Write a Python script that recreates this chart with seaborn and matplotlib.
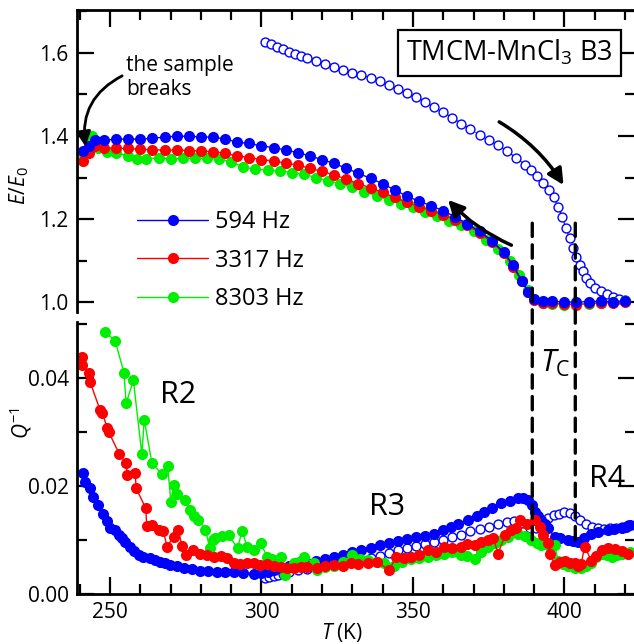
import numpy as np
import pandas as pd
import seaborn as sns
import matplotlib
matplotlib.use("Agg")
import matplotlib.pyplot as plt
from matplotlib.lines import Line2D
from matplotlib.patches import ConnectionPatch
from matplotlib.ticker import MultipleLocator

# ---------------- data ----------------
labels = ["594 Hz", "3317 Hz", "8303 Hz"]
colors = ["#0000ff", "#ff0000", "#00ee00"]

# Top panel: E/E0 (cooling, closed symbols)
T_E_blue = [241, 243, 245, 248, 252, 256, 260, 264, 268, 272, 276, 280, 284, 288, 292, 296, 300, 304, 308, 312,
            316, 320, 324, 328, 332, 336, 340, 344, 348, 352, 356, 360, 364, 368, 372, 376, 380, 383, 386, 388,
            390, 393, 396, 400, 404, 408, 412, 416, 420]
E_blue = [1.365, 1.375, 1.390, 1.390, 1.392, 1.393, 1.392, 1.395, 1.397, 1.400, 1.399, 1.398, 1.397, 1.393, 1.385,
          1.382, 1.376, 1.372, 1.366, 1.360, 1.352, 1.343, 1.334, 1.322, 1.310, 1.298, 1.285, 1.270, 1.255, 1.243,
          1.232, 1.220, 1.205, 1.188, 1.170, 1.148, 1.120, 1.090, 1.050, 1.025, 1.008, 1.003, 1.002, 1.000, 1.000,
          1.001, 1.002, 1.001, 1.003]
T_E_red = [241, 243, 245, 248, 252, 256, 260, 264, 268, 272, 276, 280, 284, 288, 292, 296, 300, 304, 308, 312,
           316, 320, 324, 328, 332, 336, 340, 344, 348, 352, 356, 360, 364, 368, 372, 376, 380, 383, 386, 388,
           390, 393, 396, 400, 404, 408, 412, 416, 420]
E_red = [1.340, 1.360, 1.375, 1.372, 1.370, 1.370, 1.368, 1.367, 1.366, 1.366, 1.365, 1.364, 1.362, 1.358, 1.352,
         1.348, 1.343, 1.340, 1.335, 1.330, 1.322, 1.315, 1.306, 1.296, 1.285, 1.275, 1.264, 1.252, 1.240, 1.230,
         1.220, 1.210, 1.198, 1.185, 1.167, 1.145, 1.118, 1.085, 1.050, 1.025, 1.005, 0.998, 0.997, 0.996, 0.993,
         0.997, 0.998, 0.998, 1.000]
T_E_green = [241, 243, 244, 246, 249, 252, 256, 259, 262, 266, 270, 274, 278, 282, 286, 290, 294, 298, 302, 306,
             310, 314, 318, 322, 326, 330, 334, 338, 342, 346, 350, 354, 358, 362, 366, 370, 374, 378, 382, 385,
             388, 390, 393, 396, 400, 404, 408, 412, 416, 420]
E_green = [1.360, 1.390, 1.400, 1.370, 1.362, 1.360, 1.352, 1.345, 1.344, 1.348, 1.345, 1.346, 1.347, 1.346, 1.344,
           1.338, 1.325, 1.320, 1.318, 1.316, 1.312, 1.308, 1.300, 1.292, 1.285, 1.276, 1.266, 1.256, 1.246, 1.237,
           1.228, 1.218, 1.207, 1.196, 1.185, 1.170, 1.150, 1.128, 1.100, 1.065, 1.030, 1.008, 0.997, 0.995, 0.994,
           0.995, 0.996, 0.998, 0.999, 1.002]
# Top panel: E/E0 heating (open symbols, 594 Hz)
T_E_open = [301.3, 303, 305, 307, 309, 311, 313, 315, 318, 321, 324, 327, 330, 333, 336, 339, 342, 345, 348, 351,
            354, 357, 360, 363, 366, 369, 372, 375, 378, 381, 384, 387, 389, 391, 393, 395, 396.5, 398, 399.3,
            400.5, 401.7, 403, 404, 405, 406, 407, 408.5, 410, 412, 414, 416, 418, 420]
E_open = [1.626, 1.622, 1.615, 1.610, 1.603, 1.598, 1.593, 1.588, 1.581, 1.574, 1.567, 1.559, 1.552, 1.546, 1.540,
          1.532, 1.522, 1.513, 1.504, 1.494, 1.482, 1.470, 1.458, 1.444, 1.430, 1.416, 1.403, 1.390, 1.378, 1.364,
          1.348, 1.331, 1.318, 1.303, 1.288, 1.270, 1.252, 1.228, 1.205, 1.178, 1.155, 1.130, 1.108, 1.090, 1.074,
          1.058, 1.045, 1.034, 1.026, 1.020, 1.013, 1.008, 1.005]

# Bottom panel: Q^-1
T_Q_blue = [241.2, 241.7, 243.4, 244.3, 246.0, 247.8, 249.0, 250.0, 251.7, 253.0, 253.9, 255.0, 256.6, 258.0, 259.4,
            261.0, 263.2, 265.0, 266.6, 268.0, 269.9, 272.0, 274.3, 277.0, 279.8, 282.5, 285.3, 288.0, 290.8, 294.0,
            297.4, 300.0, 302.0, 304.0, 306.3, 309.0, 312.0, 315.0, 318.0, 321.0, 324.0, 327.0, 330.0, 333.0, 336.0,
            339.0, 342.0, 345.0, 348.0, 351.0, 354.0, 357.0, 360.0, 362.6, 365.0, 368.1, 371.0, 373.6, 376.0, 379.1,
            382.0, 384.7, 386.5, 388.0, 389.2, 390.2, 391.3, 392.4, 393.5, 394.6, 396.8, 398.5, 401.2, 403.0, 404.5,
            406.5, 408.9, 411.0, 414.5, 416.5, 418.9, 420.3, 421.6]
Q_blue = [0.0224, 0.0208, 0.0196, 0.0180, 0.0165, 0.0149, 0.0135, 0.0122, 0.0119, 0.0110, 0.0103, 0.0097, 0.0088,
          0.0080, 0.0072, 0.0069, 0.0066, 0.0063, 0.0060, 0.0057, 0.0054, 0.0051, 0.0048, 0.0046, 0.0043, 0.0042,
          0.0041, 0.0040, 0.0040, 0.0039, 0.0038, 0.0039, 0.0041, 0.0044, 0.0048, 0.0051, 0.0055, 0.0058, 0.0061,
          0.0064, 0.0068, 0.0072, 0.0077, 0.0081, 0.0086, 0.0090, 0.0094, 0.0098, 0.0102, 0.0105, 0.0108, 0.0112,
          0.0118, 0.0125, 0.0130, 0.0137, 0.0145, 0.0152, 0.0160, 0.0168, 0.0173, 0.0177, 0.0177, 0.0174, 0.0165,
          0.0152, 0.0145, 0.0137, 0.0130, 0.0122, 0.0106, 0.0103, 0.0100, 0.0099, 0.0097, 0.0104, 0.0112, 0.0115,
          0.0119, 0.0120, 0.0122, 0.0124, 0.0128]
T_Q_red = [240.6, 240.9, 243.1, 243.4, 246.7, 247.5, 249.1, 249.5, 253.0, 255.3, 255.7, 258.3, 258.6, 261.8, 262.1,
           263.9, 266.3, 267.6, 268.8, 271.0, 272.6, 273.7, 275.2, 277.4, 279.8, 282.0, 284.2, 286.5, 288.6, 290.8,
           293.0, 295.2, 297.4, 299.6, 301.9, 304.0, 306.3, 308.5, 310.7, 312.9, 315.1, 318.4, 321.0, 324.0, 327.0,
           329.5, 332.0, 335.0, 338.0, 342.2, 344.4, 347.0, 349.4, 352.0, 354.9, 357.5, 360.4, 363.0, 365.9, 368.0,
           370.4, 372.5, 374.8, 376.5, 378.1, 380.5, 382.5, 384.0, 385.3, 387.5, 390.2, 391.9, 393.0, 394.6, 395.2,
           396.8, 398.5, 400.1, 401.8, 403.4, 404.5, 405.5, 406.7, 408.9, 410.5, 412.3, 414.5, 416.7, 418.9, 421.1]
Q_red = [0.0440, 0.0424, 0.0410, 0.0393, 0.0341, 0.0335, 0.0307, 0.0301, 0.0260, 0.0242, 0.0220, 0.0224, 0.0196,
         0.0159, 0.0126, 0.0128, 0.0119, 0.0117, 0.0088, 0.0106, 0.0119, 0.0089, 0.0072, 0.0081, 0.0075, 0.0072,
         0.0069, 0.0070, 0.0066, 0.0057, 0.0055, 0.0058, 0.0057, 0.0053, 0.0055, 0.0052, 0.0050, 0.0049, 0.0048,
         0.0050, 0.0050, 0.0048, 0.0051, 0.0054, 0.0052, 0.0057, 0.0055, 0.0057, 0.0060, 0.0044, 0.0069, 0.0066,
         0.0069, 0.0072, 0.0081, 0.0078, 0.0088, 0.0085, 0.0088, 0.0092, 0.0091, 0.0097, 0.0100, 0.0104, 0.0075,
         0.0110, 0.0119, 0.0122, 0.0137, 0.0130, 0.0137, 0.0125, 0.0110, 0.0094, 0.0075, 0.0054, 0.0060, 0.0062,
         0.0058, 0.0057, 0.0051, 0.0055, 0.0088, 0.0062, 0.0070, 0.0081, 0.0086, 0.0084, 0.0080, 0.0075]
T_Q_green = [248.3, 251.7, 254.6, 255.3, 257.7, 260.5, 261.3, 263.8, 267.1, 269.0, 270.1, 271.0, 272.1, 274.8, 276.3,
             277.8, 279.2, 281.5, 282.9, 284.0, 284.8, 287.0, 289.2, 292.1, 293.6, 295.2, 297.4, 299.7, 301.9, 303.5,
             305.2, 306.5, 307.9, 310.7, 312.5, 314.0, 317.4, 318.4, 321.0, 324.0, 327.0, 330.0, 332.5, 335.0, 338.0,
             340.5, 343.8, 346.5, 349.4, 352.0, 354.9, 357.5, 360.4, 363.0, 365.9, 368.0, 370.4, 372.5, 374.8, 377.0,
             379.1, 381.5, 384.7, 387.0, 389.1, 390.8, 392.4, 394.5, 396.8, 397.9, 399.5, 401.2, 403.5, 405.6, 407.2,
             408.9, 410.5, 412.3, 414.0, 415.6, 417.3, 418.9, 420.3, 421.6]
Q_green = [0.0486, 0.0469, 0.0410, 0.0353, 0.0396, 0.0259, 0.0323, 0.0243, 0.0222, 0.0237, 0.0171, 0.0202, 0.0186,
           0.0174, 0.0156, 0.0145, 0.0137, 0.0119, 0.0085, 0.0100, 0.0103, 0.0107, 0.0109, 0.0085, 0.0117, 0.0088,
           0.0082, 0.0094, 0.0069, 0.0065, 0.0057, 0.0069, 0.0035, 0.0057, 0.0060, 0.0069, 0.0057, 0.0044, 0.0050,
           0.0051, 0.0060, 0.0072, 0.0065, 0.0063, 0.0060, 0.0057, 0.0051, 0.0060, 0.0064, 0.0066, 0.0069, 0.0072,
           0.0075, 0.0078, 0.0072, 0.0070, 0.0064, 0.0078, 0.0088, 0.0094, 0.0100, 0.0105, 0.0112, 0.0108, 0.0100,
           0.0095, 0.0091, 0.0091, 0.0091, 0.0062, 0.0055, 0.0051, 0.0049, 0.0048, 0.0052, 0.0057, 0.0068, 0.0075,
           0.0072, 0.0069, 0.0073, 0.0075, 0.0076, 0.0077]
T_Q_open = [301.0, 302.5, 304.0, 305.5, 307.0, 309.0, 312.0, 315.0, 318.0, 321.0, 324.0, 327.0, 330.0, 333.0, 336.0,
            339.0, 342.0, 345.0, 348.0, 351.0, 354.0, 357.0, 360.0, 363.0, 366.0, 369.0, 372.0, 375.0, 378.0, 381.0,
            383.5, 386.0, 388.5, 390.5, 392.5, 394.5, 396.5, 398.2, 400.0, 401.8, 403.5, 405.2, 407.0, 409.0, 411.0,
            413.0, 415.0, 417.0, 419.0, 421.0]
Q_open = [0.0030, 0.0031, 0.0033, 0.0035, 0.0037, 0.0040, 0.0044, 0.0047, 0.0050, 0.0052, 0.0054, 0.0057, 0.0060,
          0.0063, 0.0067, 0.0071, 0.0076, 0.0082, 0.0086, 0.0089, 0.0092, 0.0096, 0.0100, 0.0105, 0.0110, 0.0116,
          0.0121, 0.0125, 0.0130, 0.0134, 0.0135, 0.0131, 0.0123, 0.0122, 0.0132, 0.0140, 0.0146, 0.0149, 0.0152,
          0.0150, 0.0145, 0.0137, 0.0129, 0.0124, 0.0122, 0.0121, 0.0122, 0.0123, 0.0125, 0.0128]

Tc_lines = [389.4, 403.6]

# ---------------- style ----------------
sns.set_theme(style="ticks")
plt.rcParams["font.family"] = ["Open Sans", "DejaVu Sans"]
plt.rcParams["mathtext.fontset"] = "custom"
plt.rcParams["mathtext.rm"] = "Open Sans"
plt.rcParams["mathtext.it"] = "Open Sans:italic"
plt.rcParams["axes.linewidth"] = 2.0
for key in ["text.color", "axes.labelcolor", "xtick.color", "ytick.color", "axes.edgecolor"]:
    plt.rcParams[key] = "black"

fig = plt.figure(figsize=(6.34, 6.44), dpi=100)
ax1 = fig.add_axes([0.1215, 0.5155, 0.8800, 0.4690])
ax2 = fig.add_axes([0.1215, 0.0776, 0.8800, 0.4224])

ms = 8.0
kw_closed = dict(marker="o", markersize=ms, markeredgewidth=0, linewidth=1.0, estimator=None, sort=False)

# top panel
sns.lineplot(x=T_E_open, y=E_open, ax=ax1, color=colors[0], marker="o", markersize=6.4,
             markerfacecolor="white", markeredgecolor=colors[0], markeredgewidth=1.0,
             linewidth=0.8, linestyle="--", estimator=None, sort=False)
sns.lineplot(x=T_E_green, y=E_green, ax=ax1, color=colors[2], **kw_closed)
sns.lineplot(x=T_E_red, y=E_red, ax=ax1, color=colors[1], **kw_closed)
sns.lineplot(x=T_E_blue, y=E_blue, ax=ax1, color=colors[0], **kw_closed)

# bottom panel
sns.lineplot(x=T_Q_open, y=Q_open, ax=ax2, color=colors[0], marker="o", markersize=6.4,
             markerfacecolor="white", markeredgecolor=colors[0], markeredgewidth=1.0,
             linewidth=0.8, linestyle="--", estimator=None, sort=False)
sns.lineplot(x=T_Q_blue, y=Q_blue, ax=ax2, color=colors[0], **kw_closed)
sns.lineplot(x=T_Q_green, y=Q_green, ax=ax2, color=colors[2], **kw_closed)
sns.lineplot(x=T_Q_red, y=Q_red, ax=ax2, color=colors[1], **kw_closed)

# axes limits / ticks
for ax in (ax1, ax2):
    ax.set_xlim(239.1, 423.3)
    ax.xaxis.set_major_locator(MultipleLocator(50))
    ax.xaxis.set_minor_locator(MultipleLocator(10))
    ax.tick_params(which="major", direction="in", length=12, width=1.6, labelsize=15, pad=6, colors="black")
    ax.tick_params(which="minor", direction="in", length=7, width=1.6, colors="black")
    ax.set_xlabel("")
    ax.set_ylabel("")
    for s in ax.spines.values():
        s.set_linewidth(2.0)
        s.set_color("black")

ax1.set_ylim(0.976, 1.7036)
ax1.yaxis.set_major_locator(MultipleLocator(0.2))
ax1.yaxis.set_minor_locator(MultipleLocator(0.1))
ax1.yaxis.set_major_formatter(matplotlib.ticker.FormatStrFormatter("%.1f"))
ax1.spines["bottom"].set_visible(False)
ax1.tick_params(which="both", top=True, bottom=False, labelbottom=False, right=True, left=True)

ax2.set_ylim(0, 0.0504)
ax2.yaxis.set_major_locator(MultipleLocator(0.02))
ax2.yaxis.set_minor_locator(MultipleLocator(0.01))
ax2.yaxis.set_major_formatter(matplotlib.ticker.FormatStrFormatter("%.2f"))
ax2.spines["top"].set_visible(False)
ax2.tick_params(which="both", top=False, bottom=True, right=True, left=True)

ax1.set_ylabel("$E/E_0$", fontsize=15)
ax1.yaxis.set_label_coords(-0.082, 0.42)
ax2.set_ylabel("$Q^{-1}$", fontsize=15)
ax2.yaxis.set_label_coords(-0.078, 0.63)
ax2.set_xlabel("$T$ (K)", fontsize=15)
ax2.xaxis.set_label_coords(0.475, -0.1)

# legend
handles = [Line2D([], [], color=c, marker="o", markersize=ms, markeredgewidth=0, linewidth=1.0) for c in colors]
ax1.legend(handles, labels, loc="upper left", bbox_to_anchor=(0.108, 0.338), frameon=False,
           fontsize=17, handlelength=3.0, handletextpad=0.3, labelspacing=0.62, borderpad=0,
           borderaxespad=0)

# title box
ax1.text(382, 1.600, "TMCM-MnCl$_3$ B3", fontsize=19.5, ha="center", va="center",
         bbox=dict(boxstyle="square,pad=0.3", facecolor="white", edgecolor="black", linewidth=1.6))

# annotations
ax1.text(255.4, 1.54, "the sample\nbreaks", fontsize=15, ha="left", va="center", linespacing=1.2)
ax1.annotate("", xy=(241.9, 1.375), xytext=(254.0, 1.545),
             arrowprops=dict(arrowstyle="-|>", lw=2.0, color="black", mutation_scale=22,
                             connectionstyle="arc3,rad=0.35", shrinkA=0, shrinkB=0))
ax1.annotate("", xy=(399.7, 1.282), xytext=(378.5, 1.434),
             arrowprops=dict(arrowstyle="-|>", lw=2.5, color="black", mutation_scale=24,
                             connectionstyle="arc3,rad=-0.12", shrinkA=0, shrinkB=0))
ax1.annotate("", xy=(361.6, 1.246), xytext=(382.5, 1.137),
             arrowprops=dict(arrowstyle="-|>", lw=2.5, color="black", mutation_scale=24,
                             connectionstyle="arc3,rad=-0.1", shrinkA=0, shrinkB=0))

# Tc dashed lines spanning both panels
for x in Tc_lines:
    con = ConnectionPatch(xyA=(x, 1.19), coordsA=ax1.transData, xyB=(x, 0.0094), coordsB=ax2.transData,
                          color="black", linewidth=2.4, linestyle=(0, (4, 2.5)), zorder=10)
    fig.add_artist(con)

ax2.text(397, 0.0427, "$T_\\mathrm{C}$", fontsize=22, ha="center", va="center")
ax2.text(272.5, 0.0369, "R2", fontsize=22, ha="center", va="center")
ax2.text(341.4, 0.0161, "R3", fontsize=22, ha="center", va="center")
ax2.text(414.1, 0.0214, "R4", fontsize=22, ha="center", va="center")

fig.savefig("out.png", dpi=100)
